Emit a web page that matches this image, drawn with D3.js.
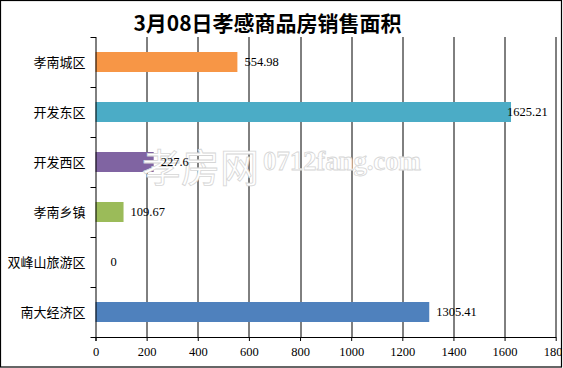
<!DOCTYPE html>
<html>
<head>
<meta charset="utf-8">
<script src="https://cdn.jsdelivr.net/npm/d3@7"></script>
<style>
  html, body { margin: 0; padding: 0; background: #fff; }
  svg { display: block; }
</style>
</head>
<body>
<svg id="chart" width="563" height="368"></svg>
<script>
const title = "3月08日孝感商品房销售面积";
const categories = ["孝南城区", "开发东区", "开发西区", "孝南乡镇", "双峰山旅游区", "南大经济区"];
const values = [554.98, 1625.21, 227.6, 109.67, 0, 1305.41];
const valueLabels = ["554.98", "1625.21", "227.6", "109.67", "0", "1305.41"];
const colors = ["#F79646", "#4BACC6", "#8064A2", "#9BBB59", "#4F81BD", "#4F81BD"];
const xTicks = [0, 200, 400, 600, 800, 1000, 1200, 1400, 1600, 1800];

const W = 563, H = 368;
const margin = { left: 95.5, right: 7.3, top: 37, bottom: 31 };
const pw = W - margin.left - margin.right;
const ph = H - margin.top - margin.bottom;

const svg = d3.select("#chart");
svg.append("defs").append("clipPath").attr("id", "frame")
  .append("rect").attr("x", 0).attr("y", 0).attr("width", 561).attr("height", 367);

const root = svg.append("g").attr("clip-path", "url(#frame)");
root.append("rect").attr("x", 0).attr("y", 0).attr("width", W).attr("height", H).attr("fill", "#fff");

// title
root.append("text")
  .attr("x", 267.5).attr("y", 31)
  .attr("text-anchor", "middle")
  .attr("font-family", "'Noto Sans CJK SC', sans-serif")
  .attr("font-weight", "bold")
  .attr("font-size", 21)
  .attr("fill", "#000")
  .text(title);

const x = d3.scaleLinear().domain([0, 1800]).range([0, pw]);
const y = d3.scaleBand().domain(categories).range([0, ph]).paddingInner(0.6).paddingOuter(0.3);

const g = root.append("g").attr("transform", `translate(${margin.left},${margin.top})`);

// vertical gridlines
g.append("g").selectAll("line").data(xTicks.slice(1)).join("line")
  .attr("x1", d => Math.round(x(d)) + 0.5).attr("x2", d => Math.round(x(d)) + 0.5)
  .attr("y1", 0).attr("y2", ph)
  .attr("stroke", "#000").attr("stroke-width", 1);

// bars
g.append("g").selectAll("rect").data(values).join("rect")
  .attr("x", 0)
  .attr("y", (d, i) => y(categories[i]))
  .attr("width", d => x(d))
  .attr("height", y.bandwidth())
  .attr("fill", (d, i) => colors[i]);

// watermark (over bars and gridlines, under labels)
const wm = root.append("g");
wm.append("text")
  .attr("x", 142).attr("y", 182)
  .attr("font-family", "'Noto Sans CJK SC', sans-serif")
  .attr("font-size", 39)
  .attr("fill", "#fff").attr("stroke", "#d6d6d6").attr("stroke-width", 0.8)
  .text("孝房网");
wm.append("text")
  .attr("x", 263).attr("y", 170)
  .attr("font-family", "'Liberation Serif', serif")
  .attr("font-weight", "bold")
  .attr("font-size", 27)
  .attr("textLength", 158)
  .attr("fill", "#fff").attr("stroke", "#d6d6d6").attr("stroke-width", 0.8)
  .text("0712fang.com");

const g2 = root.append("g").attr("transform", `translate(${margin.left},${margin.top})`);

// value labels
const labels = g2.append("g").selectAll("text").data(values).join("text")
  .attr("y", (d, i) => y(categories[i]) + y.bandwidth() / 2)
  .attr("dy", "0.35em")
  .attr("font-family", "'Liberation Serif', serif")
  .attr("font-size", 12.5)
  .attr("fill", "#000")
  .text((d, i) => valueLabels[i]);
labels.attr("x", function(d) {
  const w = this.getComputedTextLength();
  const base = d === 0 ? 15 : x(d) + 7;
  return Math.min(base, pw - 8 - w);
});

// x axis
const xAxis = d3.axisBottom(x).tickValues(xTicks).tickSize(4).tickPadding(6).tickFormat(d3.format("d"));
const xa = g2.append("g").attr("transform", `translate(0,${ph})`).call(xAxis);
xa.select(".domain").attr("d", `M0.5,0.5H${pw + 0.5}`).attr("stroke", "#000");
xa.selectAll(".tick line").attr("stroke", "#000").attr("y1", 0).attr("y2", 4);
xa.selectAll("text").attr("font-family", "'Liberation Serif', serif").attr("font-size", 12.5).attr("fill", "#000");

// y axis
const yBounds = d3.range(categories.length + 1).map(i => i * ph / categories.length);
g2.append("line").attr("x1", 0.5).attr("x2", 0.5).attr("y1", 0).attr("y2", ph + 4).attr("stroke", "#000");
g2.append("g").selectAll("line").data(yBounds).join("line")
  .attr("x1", -5).attr("x2", 0.5)
  .attr("y1", d => d + 0.5).attr("y2", d => d + 0.5)
  .attr("stroke", "#000");
g2.append("g").selectAll("text").data(categories).join("text")
  .attr("x", -10)
  .attr("y", d => y(d) + y.bandwidth() / 2)
  .attr("dy", "0.35em")
  .attr("text-anchor", "end")
  .attr("font-family", "'Noto Sans CJK SC', sans-serif")
  .attr("font-size", 13)
  .attr("fill", "#000")
  .text(d => d);

// outer frame
svg.append("rect").attr("x", 0.5).attr("y", 0.5).attr("width", 561).attr("height", 366.5)
  .attr("fill", "none").attr("stroke", "#000").attr("stroke-width", 1.2);
</script>
</body>
</html>
